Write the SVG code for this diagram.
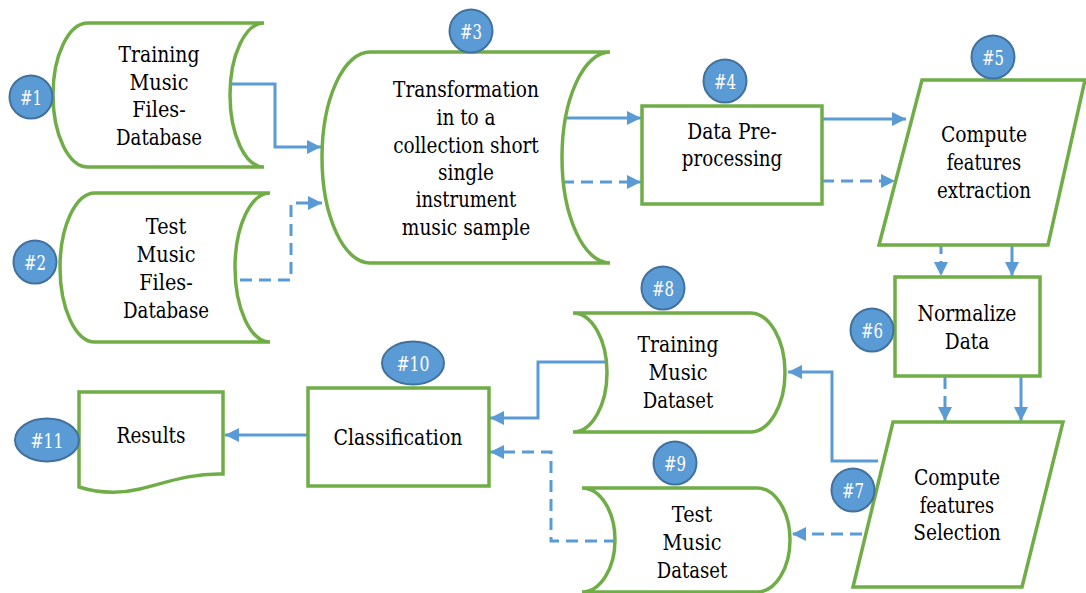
<svg xmlns="http://www.w3.org/2000/svg" width="1086" height="593" viewBox="0 0 1086 593">
<style>
.shape{fill:#ffffff;stroke:#70ad47;stroke-width:3.5}
.lbl{font-family:'DejaVu Serif',serif;font-size:21.5px;fill:#000;text-anchor:middle}
.badge{fill:#5b9bd5;stroke:#41719c;stroke-width:2}
.btxt{font-family:'DejaVu Serif',serif;font-size:20px;fill:#ffffff;text-anchor:middle}
.con{fill:none;stroke:#5b9bd5;stroke-width:3}
.dash{stroke-dasharray:12 7}
</style>
<defs>
<marker id="arr" markerUnits="userSpaceOnUse" markerWidth="14" markerHeight="14" refX="14" refY="7" orient="auto">
<path d="M0,0 L14,7 L0,14 Z" fill="#5b9bd5"/>
</marker>
</defs>

<g id="connectors">
<path class="con" d="M230,84 H275 V147 H321" marker-end="url(#arr)"/>
<path class="con dash" d="M240,280 H291 V203 H322" marker-end="url(#arr)"/>
<path class="con" d="M566,118 H641" marker-end="url(#arr)"/>
<path class="con dash" d="M562,182 H641" marker-end="url(#arr)"/>
<path class="con" d="M822,119 H906" marker-end="url(#arr)"/>
<path class="con dash" d="M822,181 H895" marker-end="url(#arr)"/>
<path class="con dash" d="M941,242 V276" marker-end="url(#arr)"/>
<path class="con" d="M1012,245 V276" marker-end="url(#arr)"/>
<path class="con dash" d="M945,377 V421" marker-end="url(#arr)"/>
<path class="con" d="M1021,377 V421" marker-end="url(#arr)"/>
<path class="con" d="M878,461 H832 V372 H788" marker-end="url(#arr)"/>
<path class="con dash" d="M862,534 H792" marker-end="url(#arr)"/>
<path class="con" d="M607,362 H538 V418 H490" marker-end="url(#arr)"/>
<path class="con dash" d="M616,541 H551 V452 H490" marker-end="url(#arr)"/>
<path class="con" d="M308,435 H225" marker-end="url(#arr)"/>
</g>

<g id="n1">
<path class="shape" d="M88,23 H264 A34,72 0 0,0 264,167 H88 A35,72 0 0,1 88,23 Z"/>
<text class="lbl" x="159" y="62" textLength="81" lengthAdjust="spacingAndGlyphs">Training</text>
<text class="lbl" x="159" y="89.5" textLength="59" lengthAdjust="spacingAndGlyphs">Music</text>
<text class="lbl" x="159" y="117" textLength="53.5" lengthAdjust="spacingAndGlyphs">Files-</text>
<text class="lbl" x="159" y="145" textLength="86" lengthAdjust="spacingAndGlyphs">Database</text>
<circle class="badge" cx="31" cy="97" r="21.5"/>
<text class="btxt" x="31" y="104.5" textLength="22" lengthAdjust="spacingAndGlyphs">#1</text>
</g>

<g id="n2">
<path class="shape" d="M95,193 H270 A35,74.5 0 0,0 270,342 H95 A35,74.5 0 0,1 95,193 Z"/>
<text class="lbl" x="166" y="234" textLength="40.5" lengthAdjust="spacingAndGlyphs">Test</text>
<text class="lbl" x="166" y="262" textLength="59" lengthAdjust="spacingAndGlyphs">Music</text>
<text class="lbl" x="166" y="290" textLength="53.5" lengthAdjust="spacingAndGlyphs">Files-</text>
<text class="lbl" x="166" y="318" textLength="86" lengthAdjust="spacingAndGlyphs">Database</text>
<circle class="badge" cx="35" cy="262" r="21.5"/>
<text class="btxt" x="35" y="269.5" textLength="22" lengthAdjust="spacingAndGlyphs">#2</text>
</g>

<g id="n3">
<path class="shape" d="M370,52 H610 A48,105.5 0 0,0 610,263 H370 A48,105.5 0 0,1 370,52 Z"/>
<text class="lbl" x="466" y="97" textLength="146" lengthAdjust="spacingAndGlyphs">Transformation</text>
<text class="lbl" x="466" y="125" textLength="59" lengthAdjust="spacingAndGlyphs">in to a</text>
<text class="lbl" x="466" y="153" textLength="145.5" lengthAdjust="spacingAndGlyphs">collection short</text>
<text class="lbl" x="466" y="180" textLength="56" lengthAdjust="spacingAndGlyphs">single</text>
<text class="lbl" x="466" y="207" textLength="100.5" lengthAdjust="spacingAndGlyphs">instrument</text>
<text class="lbl" x="466" y="235" textLength="128.5" lengthAdjust="spacingAndGlyphs">music sample</text>
<circle class="badge" cx="471" cy="31" r="21.5"/>
<text class="btxt" x="471" y="38.5" textLength="22" lengthAdjust="spacingAndGlyphs">#3</text>
</g>

<g id="n4">
<rect class="shape" x="642" y="106" width="180" height="98"/>
<text class="lbl" x="732" y="139" textLength="89.5" lengthAdjust="spacingAndGlyphs">Data Pre-</text>
<text class="lbl" x="732" y="166" textLength="100.5" lengthAdjust="spacingAndGlyphs">processing</text>
<circle class="badge" cx="725" cy="81" r="21.5"/>
<text class="btxt" x="725" y="88.5" textLength="22" lengthAdjust="spacingAndGlyphs">#4</text>
</g>

<g id="n5">
<path class="shape" d="M922,80 H1085 L1048,245 H879 Z"/>
<text class="lbl" x="984" y="142" textLength="86" lengthAdjust="spacingAndGlyphs">Compute</text>
<text class="lbl" x="984" y="170" textLength="74.5" lengthAdjust="spacingAndGlyphs">features</text>
<text class="lbl" x="984" y="198" textLength="94" lengthAdjust="spacingAndGlyphs">extraction</text>
<circle class="badge" cx="993" cy="57" r="21.5"/>
<text class="btxt" x="993" y="64.5" textLength="22" lengthAdjust="spacingAndGlyphs">#5</text>
</g>

<g id="n6">
<rect class="shape" x="895" y="277" width="145" height="99"/>
<text class="lbl" x="967" y="321" textLength="99" lengthAdjust="spacingAndGlyphs">Normalize</text>
<text class="lbl" x="967" y="349" textLength="44.5" lengthAdjust="spacingAndGlyphs">Data</text>
<circle class="badge" cx="872" cy="330" r="21.5"/>
<text class="btxt" x="872" y="337.5" textLength="22" lengthAdjust="spacingAndGlyphs">#6</text>
</g>

<g id="n7">
<path class="shape" d="M893,422 H1063 L1022,587 H853 Z"/>
<text class="lbl" x="957" y="485" textLength="86" lengthAdjust="spacingAndGlyphs">Compute</text>
<text class="lbl" x="957" y="513" textLength="74.5" lengthAdjust="spacingAndGlyphs">features</text>
<text class="lbl" x="957" y="540" textLength="87.5" lengthAdjust="spacingAndGlyphs">Selection</text>
<circle class="badge" cx="853" cy="490" r="21.5"/>
<text class="btxt" x="853" y="497.5" textLength="22" lengthAdjust="spacingAndGlyphs">#7</text>
</g>

<g id="n8">
<path class="shape" d="M573,313 H750 A35,59.5 0 0,1 750,432 H573 A34,59.5 0 0,0 573,313 Z"/>
<text class="lbl" x="678" y="352" textLength="81" lengthAdjust="spacingAndGlyphs">Training</text>
<text class="lbl" x="678" y="380" textLength="59" lengthAdjust="spacingAndGlyphs">Music</text>
<text class="lbl" x="678" y="408" textLength="70.5" lengthAdjust="spacingAndGlyphs">Dataset</text>
<circle class="badge" cx="663" cy="288" r="21.5"/>
<text class="btxt" x="663" y="295.5" textLength="22" lengthAdjust="spacingAndGlyphs">#8</text>
</g>

<g id="n9">
<path class="shape" d="M582,488 H757 A33,52 0 0,1 757,592 H582 A33,52 0 0,0 582,488 Z"/>
<text class="lbl" x="692" y="522" textLength="40.5" lengthAdjust="spacingAndGlyphs">Test</text>
<text class="lbl" x="692" y="550" textLength="59" lengthAdjust="spacingAndGlyphs">Music</text>
<text class="lbl" x="692" y="578" textLength="70.5" lengthAdjust="spacingAndGlyphs">Dataset</text>
<circle class="badge" cx="675" cy="463" r="21.5"/>
<text class="btxt" x="675" y="470.5" textLength="22" lengthAdjust="spacingAndGlyphs">#9</text>
</g>

<g id="n10">
<rect class="shape" x="308" y="388" width="181" height="98"/>
<text class="lbl" x="398" y="445" textLength="129" lengthAdjust="spacingAndGlyphs">Classification</text>
<ellipse class="badge" cx="413" cy="363" rx="31" ry="21.5"/>
<text class="btxt" x="413" y="370.5" textLength="33" lengthAdjust="spacingAndGlyphs">#10</text>
</g>

<g id="n11">
<path class="shape" d="M79,392 H223 V474 C190,473 165,483 140,489 C115,495 95,492 79,487 Z"/>
<text class="lbl" x="151" y="443" textLength="69" lengthAdjust="spacingAndGlyphs">Results</text>
<ellipse class="badge" cx="47" cy="440" rx="32" ry="21.5"/>
<text class="btxt" x="47" y="447.5" textLength="33" lengthAdjust="spacingAndGlyphs">#11</text>
</g>
</svg>
